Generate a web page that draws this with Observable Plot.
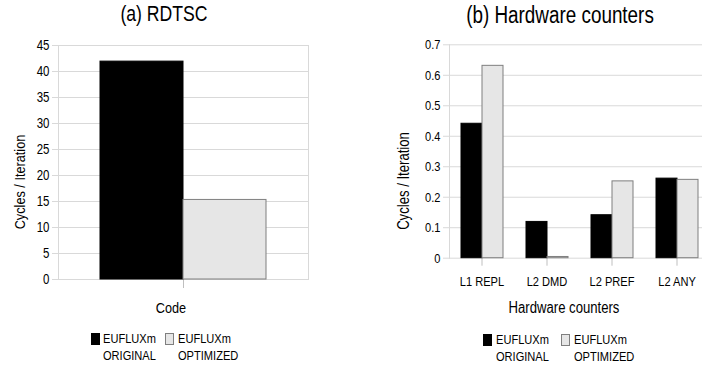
<!DOCTYPE html>
<html>
<head>
<meta charset="utf-8">
<script src="https://cdn.jsdelivr.net/npm/d3@7"></script>
<script src="https://cdn.jsdelivr.net/npm/@observablehq/plot@0.6"></script>
<style>
  html, body { margin: 0; padding: 0; background: #fff; }
  #wrap { position: relative; width: 702px; height: 370px; overflow: hidden; background: #fff;
          font-family: "Liberation Sans Narrow", "Liberation Sans", Arial, sans-serif; color: #000; }
  #wrap svg { position: absolute; top: 30px; overflow: visible; }
  .lbl { position: absolute; white-space: nowrap; line-height: 1; }
  .center { transform: translate(-50%, -50%) scaleX(0.82); }
  .ylab { transform: translate(-50%, -50%) rotate(-90deg) scaleX(0.82); }
  .sw { position: absolute; width: 9px; height: 12px; box-sizing: border-box; }
  .txt { position: absolute; text-align: left; line-height: 17px; white-space: nowrap;
         transform: scaleX(0.82); transform-origin: 0 0; }
</style>
</head>
<body>
<div id="wrap"></div>
<script>
// ---- data ----
const seriesNames = ["EUFLUXm ORIGINAL", "EUFLUXm OPTIMIZED"];
const seriesLines = [["EUFLUXm", "ORIGINAL"], ["EUFLUXm", "OPTIMIZED"]];

const rdtscCategories = ["Code"];
const rdtscOriginal = [41.9];
const rdtscOptimized = [15.3];
const rdtscTicks = [0, 5, 10, 15, 20, 25, 30, 35, 40, 45];

const hwCategories = ["L1 REPL", "L2 DMD", "L2 PREF", "L2 ANY"];
const hwOriginal = [0.441, 0.119, 0.141, 0.261];
const hwOptimized = [0.631, 0.004, 0.252, 0.257];
const hwTicks = [0, 0.1, 0.2, 0.3, 0.4, 0.5, 0.6, 0.7];

const titles = ["(a) RDTSC", "(b) Hardware counters"];
const xLabels = ["Code", "Hardware counters"];
const yLabel = "Cycles / Iteration";

// ---- styles ----
const fills = ["#000000", "#e6e6e6"];
const strokes = ["#000000", "#7f7f7f"];
const gridColor = "#d9d9d9";
const fontFamily = '"Liberation Sans Narrow", "Liberation Sans", Arial, sans-serif';
const squeeze = 0.82;

function table(cats, a, b) {
  return cats.flatMap((c, i) => [
    {cat: c, series: seriesNames[0], value: a[i]},
    {cat: c, series: seriesNames[1], value: b[i]}
  ]);
}

function chart({data, cats, ticks, yMax, width, height, margins, fontSize, fxTickSize, fxTickPadding, fmt, fullFrame}) {
  return Plot.plot({
    width, height,
    marginTop: margins[0], marginRight: margins[1], marginBottom: margins[2], marginLeft: margins[3],
    style: {fontFamily, fontSize: fontSize + "px", color: "#000", background: "transparent"},
    fx: {domain: cats, padding: 0, axis: null},
    x: {domain: seriesNames, paddingInner: 0, paddingOuter: 0.5, axis: null},
    y: {domain: [0, yMax], axis: null},
    marks: [
      Plot.gridY(ticks, {stroke: gridColor, strokeOpacity: 1}),
      fullFrame
        ? Plot.frame({stroke: gridColor, strokeOpacity: 1})
        : Plot.frame({anchor: "left", facetAnchor: "left", stroke: gridColor, strokeOpacity: 1}),
      Plot.axisY({ticks, tickSize: 6, tickPadding: 3, stroke: gridColor, strokeOpacity: 1, fill: "#000",
                  label: null, tickFormat: fmt, facetAnchor: "left"}),
      Plot.axisFx({anchor: "bottom", tickSize: fxTickSize, tickPadding: fxTickPadding, stroke: "#bfbfbf",
                   strokeOpacity: 1, fill: "#000", label: null,
                   tickFormat: cats.length === 1 ? () => "" : d => d}),
      Plot.barY(data.filter(d => d.series === seriesNames[0]),
        {fx: "cat", x: "series", y: "value", fill: fills[0], stroke: strokes[0], inset: 0}),
      Plot.barY(data.filter(d => d.series === seriesNames[1]),
        {fx: "cat", x: "series", y: "value", fill: fills[1], stroke: strokes[1], inset: 0})
    ]
  });
}

function narrowTexts(svg) {
  svg.querySelectorAll("text").forEach(t => {
    const w = t.getComputedTextLength();
    if (w > 0) {
      t.setAttribute("textLength", w * squeeze);
      t.setAttribute("lengthAdjust", "spacingAndGlyphs");
    }
  });
}

const wrap = document.getElementById("wrap");

const left = chart({
  data: table(rdtscCategories, rdtscOriginal, rdtscOptimized),
  cats: rdtscCategories, ticks: rdtscTicks, yMax: 45,
  width: 351, height: 290, margins: [15, 43, 41, 58], fontSize: 14,
  fxTickSize: 9, fxTickPadding: 3, fmt: d3.format("d"), fullFrame: true
});
left.style.left = "0px";
wrap.appendChild(left);
narrowTexts(left);

const right = chart({
  data: table(hwCategories, hwOriginal, hwOptimized),
  cats: hwCategories, ticks: hwTicks, yMax: 0.7,
  width: 370, height: 290, margins: [14.3, 12, 62.3, 97], fontSize: 13.5,
  fxTickSize: 8, fxTickPadding: 10, fmt: d => d === 0 ? "0" : d3.format(".1f")(d), fullFrame: false
});
right.style.left = "351px";
wrap.appendChild(right);
narrowTexts(right);

function label(cls, text, x, y, size) {
  const el = document.createElement("div");
  el.className = "lbl " + cls;
  el.textContent = text;
  el.style.left = x + "px";
  el.style.top = y + "px";
  el.style.fontSize = size + "px";
  wrap.appendChild(el);
}
label("center", titles[0], 164, 15, 21.5);
label("center", titles[1], 560, 15, 23);
label("center", xLabels[0], 171, 308, 15.5);
label("center", xLabels[1], 564, 308, 16);
label("ylab", yLabel, 20, 182, 15.5);
label("ylab", yLabel, 404, 181, 16);

function legend(xs, y, fontSize) {
  seriesLines.forEach((lines, i) => {
    const sw = document.createElement("div");
    sw.className = "sw";
    sw.style.left = xs[i] + "px";
    sw.style.top = (y + 1) + "px";
    sw.style.background = fills[i];
    sw.style.border = "1px solid " + strokes[i];
    wrap.appendChild(sw);
    const tx = document.createElement("div");
    tx.className = "txt";
    tx.style.left = (xs[i] + 12.5) + "px";
    tx.style.top = (y - 2) + "px";
    tx.style.fontSize = fontSize + "px";
    tx.innerHTML = lines.join("<br>");
    wrap.appendChild(tx);
  });
}
legend([90.5, 165], 332, 13.5);
legend([483, 561], 333, 13.5);
</script>
</body>
</html>
